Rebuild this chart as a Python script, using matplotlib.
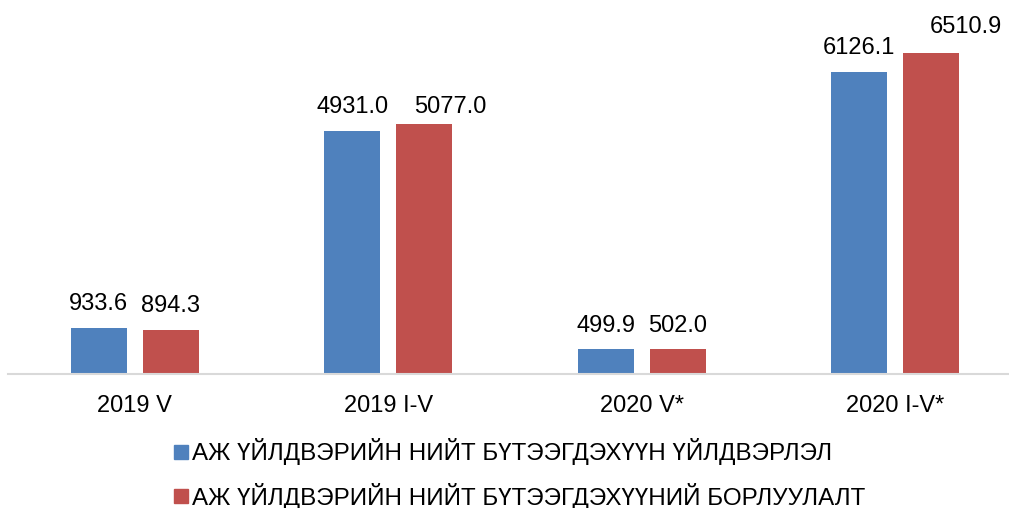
import numpy as np
import matplotlib.pyplot as plt
from matplotlib.lines import Line2D

plt.rcParams['font.family'] = ['Liberation Sans', 'DejaVu Sans']

# Data
categories = ["2019 V", "2019 I-V", "2020 V*", "2020 I-V*"]
production = [933.6, 4931.0, 499.9, 6126.1]
sales = [894.3, 5077.0, 502.0, 6510.9]
series_names = ["АЖ ҮЙЛДВЭРИЙН НИЙТ БҮТЭЭГДЭХҮҮН ҮЙЛДВЭРЛЭЛ",
                "АЖ ҮЙЛДВЭРИЙН НИЙТ БҮТЭЭГДЭХҮҮНИЙ БОРЛУУЛАЛТ"]
colors = ["#4F81BD", "#C0504D"]

W, H = 1009, 508
fig = plt.figure(figsize=(W / 100, H / 100), dpi=100)
# axes: left 8px, baseline at 374px, extends a bit past right edge
ax = fig.add_axes([8 / W, (H - 374) / H, 1014 / W, 374 / H])

x = np.arange(len(categories))
width = 0.221
offset = 0.142
bars1 = ax.bar(x - offset, production, width, color=colors[0])
bars2 = ax.bar(x + offset, sales, width, color=colors[1])

# label nudges (points) where labels would collide, like Excel does
nudge = {(1, 1): (19, -5), (1, 3): (25, 2)}

for si, (bars, vals) in enumerate(((bars1, production), (bars2, sales))):
    for i, (b, v) in enumerate(zip(bars, vals)):
        dx, dy = nudge.get((si, i), (0, 0))
        ax.annotate(f"{v:.1f}", (b.get_x() + b.get_width() / 2, v),
                    xytext=(dx, 9 + dy), textcoords="offset points",
                    ha="center", va="bottom", fontsize=17, color="#000000")

ax.set_xlim(-0.5, len(categories) - 0.5)
ax.set_ylim(0, 7586)
ax.set_yticks([])
ax.set_xticks(x)
ax.set_xticklabels(categories, fontsize=17)
ax.tick_params(axis="x", length=0, pad=15)
for s in ("top", "right", "left"):
    ax.spines[s].set_visible(False)
ax.spines["bottom"].set_color("#D9D9D9")
ax.spines["bottom"].set_linewidth(1.5)

handles = [Line2D([], [], marker="s", linestyle="none", markersize=9.5,
                  color=c) for c in colors]
fig.legend(handles, series_names, loc="center", bbox_to_anchor=(518 / W, 1 - 474 / H),
           ncol=1, frameon=False, fontsize=17.4, handletextpad=0.0,
           handlelength=0.9, labelspacing=0.72, borderpad=0)

fig.savefig("out.png", dpi=100)
